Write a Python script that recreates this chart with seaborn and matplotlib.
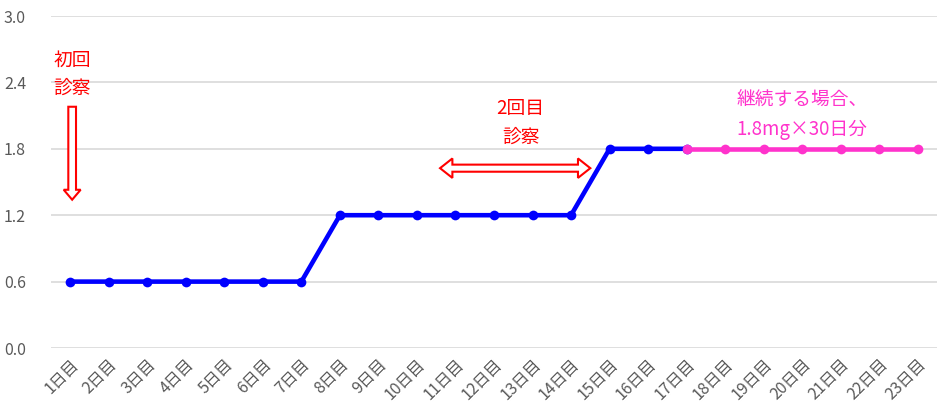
import matplotlib
matplotlib.use("Agg")
import matplotlib.pyplot as plt
from matplotlib.patches import Polygon
import seaborn as sns
import pandas as pd

days = [f"{i}日目" for i in range(1, 24)]
blue_values = [0.6] * 7 + [1.2] * 7 + [1.8] * 3          # 1日目〜17日目
pink_values = [1.8] * 7                                   # 17日目〜23日目
y_ticks = [0.0, 0.6, 1.2, 1.8, 2.4, 3.0]

sns.set_theme(style="white")
plt.rcParams["font.family"] = ["Noto Sans CJK JP", "DejaVu Sans"]

df_blue = pd.DataFrame({"day": days[:17], "value": blue_values})
df_pink = pd.DataFrame({"day": days[16:], "value": pink_values})

fig = plt.figure(figsize=(9.51, 4.20), dpi=100)
ax = fig.add_axes([0.0536, 0.1714, 0.9317, 0.7905])

sns.lineplot(data=df_blue, x="day", y="value", ax=ax, color="#0000FF",
             linewidth=3.3, marker="o", markersize=7, markeredgewidth=0,
             sort=False)
sns.lineplot(data=df_pink, x="day", y="value", ax=ax, color="#FF33CC",
             linewidth=3.3, marker="o", markersize=7, markeredgewidth=0,
             sort=False)

ax.set_xlim(-0.5, len(days) - 0.5)
ax.set_ylim(0, 3.0)
ax.set_yticks(y_ticks)
ax.set_yticklabels([f"{v:.1f}" for v in y_ticks])
ax.set_xticks(range(len(days)))
ax.set_xticklabels(days, rotation=45, ha="right", rotation_mode="anchor")
ax.tick_params(axis="both", colors="#595959", labelsize=11.5, length=0)
ax.tick_params(axis="x", pad=6)
ax.tick_params(axis="y", pad=18)
ax.set_xlabel("")
ax.set_ylabel("")
ax.grid(axis="y", color="#D9D9D9", linewidth=1.2)
ax.set_axisbelow(True)
for s in ax.spines.values():
    s.set_visible(False)

# annotations
red = "#FF0000"
ax.text(0.05, 2.60, "初回", color=red, fontsize=13.5, ha="center", va="center")
ax.text(0.05, 2.35, "診察", color=red, fontsize=13.5, ha="center", va="center")

# hollow down arrow
cx, top, bot = 0.05, 2.18, 1.34
sw, hw, hl = 0.10, 0.22, 0.09
down = Polygon([(cx - sw, top), (cx + sw, top), (cx + sw, bot + hl),
                (cx + hw, bot + hl), (cx, bot), (cx - hw, bot + hl),
                (cx - sw, bot + hl)], closed=True, facecolor="white",
               edgecolor=red, linewidth=1.5, zorder=5)
ax.add_patch(down)

ax.text(11.69, 2.16, "2回目", color=red, fontsize=13.5, ha="center", va="center")
ax.text(11.69, 1.90, "診察", color=red, fontsize=13.5, ha="center", va="center")

# hollow double arrow
x0, x1, yc = 9.6, 13.5, 1.625
sh, hh, hlx = 0.032, 0.088, 0.32
dbl = Polygon([(x0, yc), (x0 + hlx, yc + hh), (x0 + hlx, yc + sh),
               (x1 - hlx, yc + sh), (x1 - hlx, yc + hh), (x1, yc),
               (x1 - hlx, yc - hh), (x1 - hlx, yc - sh), (x0 + hlx, yc - sh),
               (x0 + hlx, yc - hh)], closed=True, facecolor="white",
              edgecolor=red, linewidth=1.5, zorder=5)
ax.add_patch(dbl)

pink = "#FF33CC"
ax.text(19.0, 2.25, "継続する場合、", color=pink, fontsize=13.5, ha="center", va="center")
ax.text(19.0, 1.97, "1.8mg×30日分", color=pink, fontsize=13.5, ha="center", va="center")

fig.savefig("out.png", dpi=100)
